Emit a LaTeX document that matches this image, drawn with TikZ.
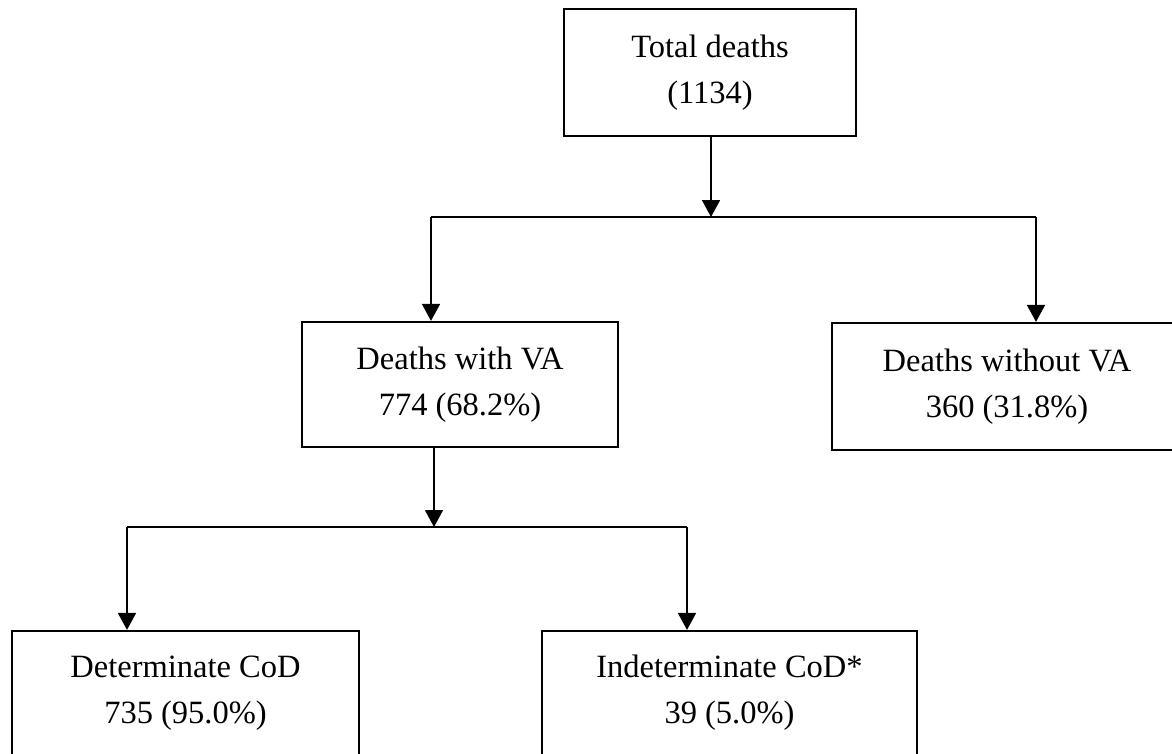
\documentclass[tikz,border=0pt]{standalone}
\usepackage{fontspec}
\setmainfont{Liberation Serif}
\usepackage{tikz}
\usetikzlibrary{positioning,arrows.meta,calc}

\begin{document}
\begin{tikzpicture}[
  x=1pt, y=-1pt,
  box/.style={draw, line width=2.2pt, fill=white, align=center, inner sep=0pt,
              font=\fontsize{32.5}{46}\selectfont},
  link/.style={line width=1.8pt},
  >={Triangle[width=18pt,length=17pt]}
]
\useasboundingbox (0,0) rectangle (1172,753);
\clip (0,0) rectangle (1172,753);
\fill[white] (0,0) rectangle (1172,753);

% boxes
\node[box, minimum width=292pt, minimum height=127pt] (total) at (710,72.5) {Total deaths\\(1134)};
\node[box, minimum width=316pt, minimum height=125pt] (withva) at (460,384.5) {Deaths with VA\\774 (68.2\%)};
\node[box, minimum width=350pt, minimum height=127pt] (withoutva) at (1007,386.5) {Deaths without VA\\360 (31.8\%)};
\node[box, minimum width=347pt, minimum height=124pt] (determ) at (185.5,693) {Determinate CoD\\735 (95.0\%)};
\node[box, minimum width=375pt, minimum height=124pt] (indeterm) at (729.5,693) {Indeterminate CoD*\\39 (5.0\%)};

% first split
\coordinate (ja) at (711,217);
\coordinate (la) at (431,217);
\coordinate (ra) at (1036,217);
\draw[link, ->] (total.south -| ja) -- (ja);
\draw[link] (la) -- (ra);
\draw[link, ->] (la) -- (la |- withva.north);
\draw[link, ->] (ra) -- (ra |- withoutva.north);

% second split
\coordinate (jb) at (434,527);
\coordinate (lb) at (127,527);
\coordinate (rb) at (687,527);
\draw[link, ->] (withva.south -| jb) -- (jb);
\draw[link] (lb) -- (rb);
\draw[link, ->] (lb) -- (lb |- determ.north);
\draw[link, ->] (rb) -- (rb |- indeterm.north);
\end{tikzpicture}
\end{document}
